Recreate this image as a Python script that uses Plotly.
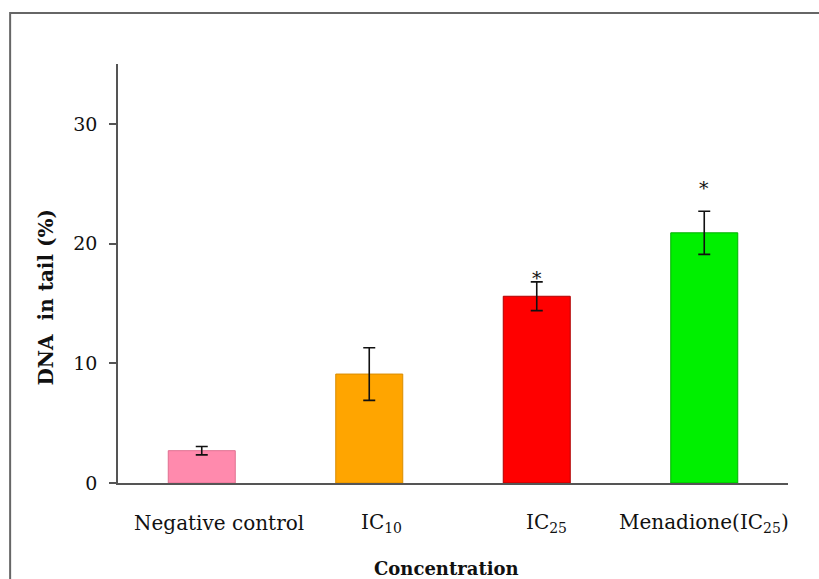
import plotly.graph_objects as go

categories = ["Negative control", "IC10", "IC25", "Menadione(IC25)"]
tick_labels = ["Negative control", "IC<sub>10</sub>", "IC<sub>25</sub>", "Menadione(IC<sub>25</sub>)"]
values = [2.7, 9.1, 15.6, 20.9]
errors = [0.35, 2.2, 1.2, 1.8]
asterisk_y = [None, None, 17.4, 24.9]
bar_colors = ["#FF8AAD", "#FFA500", "#FF0000", "#00F000"]
bar_edges = ["#E07090", "#D98C00", "#B00000", "#00B000"]
label_xshift = [17, 12, 10, 0]

FONT = "DejaVu Serif, serif"

fig = go.Figure()
fig.add_trace(go.Bar(
    x=categories, y=values, width=0.4,
    marker=dict(color=bar_colors, line=dict(color=bar_edges, width=1)),
    error_y=dict(type="data", array=errors, visible=True, color="#111111", thickness=1.6, width=6),
    showlegend=False,
))

annotations = []
for c, lab, dx in zip(categories, tick_labels, label_xshift):
    annotations.append(dict(x=c, y=0, xref="x", yref="paper", text=lab, showarrow=False,
                            xshift=dx, yshift=-40, yanchor="middle",
                            font=dict(family=FONT, size=20, color="#111111")))
for c, ay in zip(categories, asterisk_y):
    if ay is not None:
        annotations.append(dict(x=c, y=ay, xref="x", yref="y", text="*", showarrow=False,
                                yanchor="middle", yshift=-3,
                                font=dict(family=FONT, size=19, color="#111111")))
annotations.append(dict(x=0.5, y=0, xref="paper", yref="paper", text="<b>Concentration</b>",
                        showarrow=False, yanchor="middle", yshift=-85, xshift=-7,
                        font=dict(family=FONT, size=18, color="#111111")))
annotations.append(dict(x=0, y=0.5, xref="paper", yref="paper", text="<b>DNA  in tail (%)</b>",
                        showarrow=False, textangle=-90, xanchor="center", xshift=-73, yshift=-24,
                        font=dict(family=FONT, size=20, color="#111111")))

fig.update_layout(
    width=819, height=579,
    margin=dict(l=118, r=31, t=64, b=96),
    paper_bgcolor="white", plot_bgcolor="white",
    annotations=annotations,
    shapes=[dict(type="rect", xref="paper", yref="paper", x0=-0.161, x1=1.1, y0=-0.4, y1=1.1217,
                 line=dict(color="#666666", width=2), layer="below")],
    xaxis=dict(showticklabels=False, ticks="", showline=True, linecolor="#555555", linewidth=1.5,
               range=[-0.5, 3.5], showgrid=False, zeroline=False),
    yaxis=dict(range=[0, 35], tickvals=[0, 10, 20, 30], ticks="outside", ticklen=7,
               tickcolor="#555555", tickwidth=1.5, showline=True, linecolor="#555555", linewidth=1.5,
               showgrid=False, zeroline=False, ticklabelstandoff=8,
               tickfont=dict(family=FONT, size=19, color="#111111")),
    bargap=0.6,
)

fig.write_html("out.html")
